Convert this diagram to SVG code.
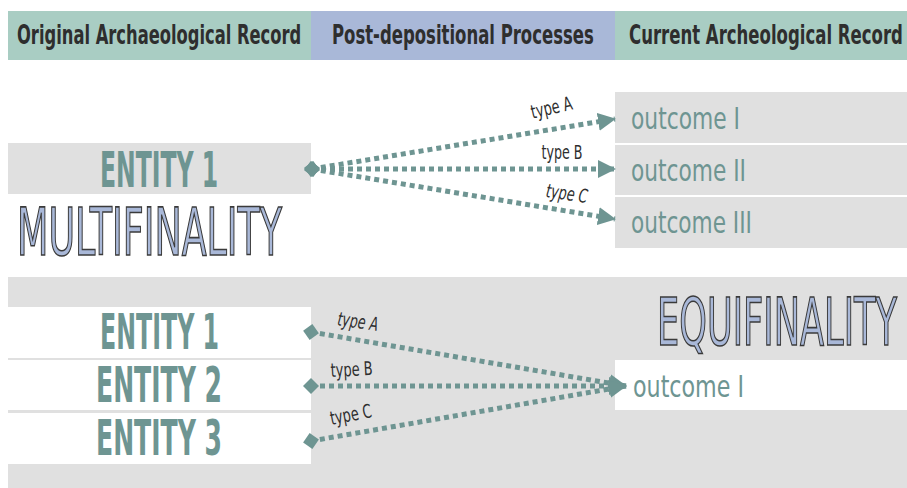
<svg xmlns="http://www.w3.org/2000/svg" width="907" height="488" viewBox="0 0 907 488">
<style>
.hdr{font-family:"DejaVu Sans Condensed","Liberation Sans Narrow",sans-serif;font-weight:bold;font-size:27px;fill:#2e2e2e}
.ent{font-family:"DejaVu Sans Condensed","Liberation Sans Narrow",sans-serif;font-weight:bold;font-size:50px;fill:#6e9592}
.out{font-family:"DejaVu Sans Condensed","Liberation Sans Narrow",sans-serif;font-size:31px;fill:#6e9592}
.big{font-family:"DejaVu Sans Condensed","Liberation Sans Narrow",sans-serif;font-size:66px;fill:#a9b8d8;stroke:#3a3a3a;stroke-width:1.6}
.lbl{font-family:"DejaVu Sans Condensed","Liberation Sans Narrow",sans-serif;font-size:19px;fill:#2e2e2e}
.conn{fill:none;stroke:#6e9592;stroke-width:5;stroke-dasharray:5 4}
.gray{fill:#e0e0e0}
.white{fill:#ffffff}
</style>
<defs>
<marker id="arr" markerUnits="userSpaceOnUse" markerWidth="18" markerHeight="20" viewBox="0 0 18 20" refX="17" refY="10" orient="auto">
<path d="M0,1 L18,10 L0,19 Z" fill="#6e9592"/>
</marker>
<marker id="dia" markerUnits="userSpaceOnUse" markerWidth="16" markerHeight="16" viewBox="0 0 16 16" refX="8" refY="8" orient="auto">
<path d="M8,0 L16,8 L8,16 L0,8 Z" fill="#6e9592"/>
</marker>
</defs>
<rect width="907" height="488" fill="#ffffff"/>
<g id="header">
<rect x="8" y="11" width="303" height="49" fill="#a9cdc3"/>
<rect x="311" y="11" width="304" height="49" fill="#a9b8d8"/>
<rect x="615" y="11" width="292" height="49" fill="#a9cdc3"/>
<text class="hdr" transform="translate(17,44) scale(0.7,1)" textLength="406" lengthAdjust="spacingAndGlyphs">Original Archaeological Record</text>
<text class="hdr" transform="translate(332,44) scale(0.7,1)" textLength="374" lengthAdjust="spacingAndGlyphs">Post-depositional Processes</text>
<text class="hdr" transform="translate(629,44) scale(0.55,1)" textLength="498" lengthAdjust="spacingAndGlyphs">Current Archeological Record</text>
</g>
<g id="entity-top">
<rect class="gray" x="8" y="143" width="303" height="51"/>
<text class="ent" x="100" y="187" textLength="118" lengthAdjust="spacingAndGlyphs">ENTITY 1</text>
</g>
<g id="outcome-1">
<rect class="gray" x="615" y="92" width="292" height="51"/>
<text class="out" x="631" y="129" textLength="109" lengthAdjust="spacingAndGlyphs">outcome I</text>
</g>
<g id="outcome-2">
<rect class="gray" x="615" y="145" width="292" height="50"/>
<text class="out" x="631" y="181" textLength="115" lengthAdjust="spacingAndGlyphs">outcome II</text>
</g>
<g id="outcome-3">
<rect class="gray" x="615" y="197" width="292" height="51"/>
<text class="out" x="631" y="233" textLength="121" lengthAdjust="spacingAndGlyphs">outcome III</text>
</g>
<g id="multifinality">
<text class="big" x="17" y="255" textLength="265" lengthAdjust="spacingAndGlyphs">MULTIFINALITY</text>
</g>
<g id="bottom-bg">
<rect class="gray" x="8" y="277" width="899" height="211"/>
</g>
<g id="entity-b1">
<rect class="white" x="8" y="307" width="303" height="51"/>
<text class="ent" x="100" y="349" textLength="119" lengthAdjust="spacingAndGlyphs">ENTITY 1</text>
</g>
<g id="entity-b2">
<rect class="white" x="8" y="360" width="303" height="50"/>
<text class="ent" x="96" y="402" textLength="126" lengthAdjust="spacingAndGlyphs">ENTITY 2</text>
</g>
<g id="entity-b3">
<rect class="white" x="8" y="413" width="303" height="51"/>
<text class="ent" x="96" y="455" textLength="126" lengthAdjust="spacingAndGlyphs">ENTITY 3</text>
</g>
<g id="outcome-b1">
<rect class="white" x="615" y="360" width="292" height="50"/>
<text class="out" x="633" y="397" textLength="111" lengthAdjust="spacingAndGlyphs">outcome I</text>
</g>
<g id="equifinality">
<text class="big" transform="translate(657,345) scale(0.6,1)" textLength="400" lengthAdjust="spacingAndGlyphs" stroke-width="2">EQUIFINALITY</text>
</g>
<g id="connectors">
<path class="conn" d="M312,169 L615,119" marker-start="url(#dia)" marker-end="url(#arr)"/>
<path class="conn" d="M312,169 L615,169" marker-start="url(#dia)" marker-end="url(#arr)"/>
<path class="conn" d="M312,169 L615,219" marker-start="url(#dia)" marker-end="url(#arr)"/>
<path class="conn" d="M311,332 L626,386" marker-start="url(#dia)" marker-end="url(#arr)"/>
<path class="conn" d="M311,386 L626,386" marker-start="url(#dia)" marker-end="url(#arr)"/>
<path class="conn" d="M311,441 L626,386" marker-start="url(#dia)" marker-end="url(#arr)"/>
<text class="lbl" transform="translate(553,114) rotate(-13)" text-anchor="middle" textLength="42" lengthAdjust="spacingAndGlyphs">type A</text>
<text class="lbl" x="562" y="159" text-anchor="middle" textLength="41" lengthAdjust="spacingAndGlyphs">type B</text>
<text class="lbl" transform="translate(566,200) rotate(8)" text-anchor="middle" font-style="italic" textLength="42" lengthAdjust="spacingAndGlyphs">type C</text>
<text class="lbl" transform="translate(357,328) rotate(8)" text-anchor="middle" font-style="italic" textLength="41" lengthAdjust="spacingAndGlyphs">type A</text>
<text class="lbl" transform="translate(352,376) rotate(-3)" text-anchor="middle" textLength="42" lengthAdjust="spacingAndGlyphs">type B</text>
<text class="lbl" transform="translate(352,421) rotate(-11)" text-anchor="middle" textLength="42" lengthAdjust="spacingAndGlyphs">type C</text>
</g>
</svg>
